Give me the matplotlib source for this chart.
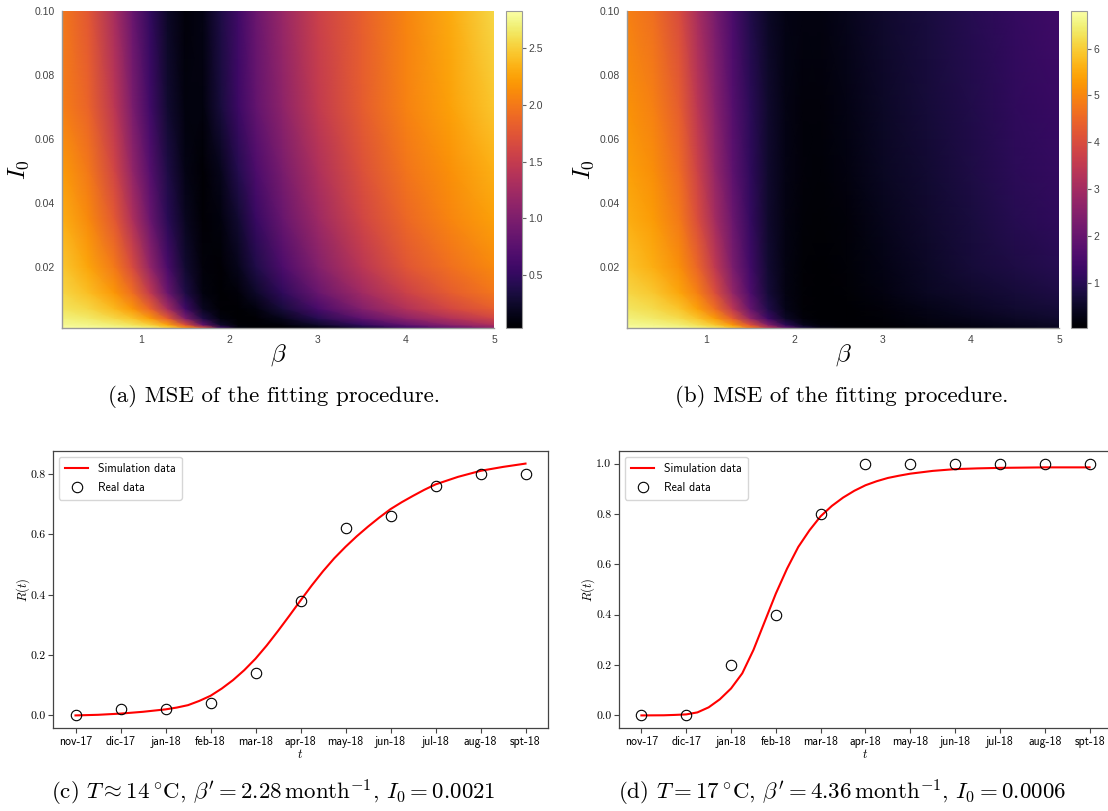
import numpy as np
import matplotlib
matplotlib.use("Agg")
import matplotlib.pyplot as plt

plt.rcParams['mathtext.fontset'] = 'cm'

# ---------------- data ----------------
betas = [0.1, 0.4, 0.7, 0.9, 1.1, 1.3, 1.5, 1.7, 1.9, 2.1, 2.3, 2.6, 3.0, 3.5, 4.0, 4.5, 5.0]
i0s = [0.001, 0.002, 0.004, 0.007, 0.012, 0.02, 0.035, 0.05, 0.07, 0.1]

# MSE surface (a): rows follow i0s, columns follow betas
mse_a = [
    [2.83, 2.80, 2.77, 2.75, 2.69, 2.55, 2.21, 1.76, 0.58, 0.10, 0.03, 0.03, 0.10, 0.30, 0.55, 0.80, 1.06],
    [2.77, 2.75, 2.69, 2.63, 2.52, 2.27, 1.71, 0.81, 0.24, 0.06, 0.03, 0.08, 0.24, 0.50, 0.80, 1.08, 1.34],
    [2.72, 2.66, 2.55, 2.44, 2.21, 1.79, 1.00, 0.36, 0.10, 0.03, 0.05, 0.17, 0.42, 0.78, 1.10, 1.36, 1.60],
    [2.63, 2.55, 2.38, 2.18, 1.85, 1.28, 0.58, 0.19, 0.05, 0.03, 0.10, 0.32, 0.63, 1.03, 1.36, 1.62, 1.82],
    [2.55, 2.41, 2.18, 1.93, 1.48, 0.86, 0.36, 0.10, 0.03, 0.08, 0.23, 0.47, 0.85, 1.24, 1.56, 1.80, 1.98],
    [2.46, 2.27, 1.99, 1.65, 1.14, 0.64, 0.27, 0.08, 0.05, 0.17, 0.38, 0.66, 1.03, 1.42, 1.74, 1.94, 2.10],
    [2.32, 2.10, 1.76, 1.34, 0.86, 0.44, 0.19, 0.05, 0.10, 0.28, 0.53, 0.84, 1.22, 1.60, 1.88, 2.08, 2.24],
    [2.21, 1.99, 1.59, 1.14, 0.72, 0.36, 0.13, 0.05, 0.17, 0.41, 0.66, 0.97, 1.34, 1.70, 1.97, 2.15, 2.33],
    [2.04, 1.85, 1.43, 0.98, 0.58, 0.27, 0.10, 0.10, 0.32, 0.56, 0.81, 1.11, 1.48, 1.80, 2.06, 2.25, 2.45],
    [1.99, 1.76, 1.28, 0.86, 0.50, 0.22, 0.08, 0.13, 0.36, 0.58, 0.86, 1.17, 1.54, 1.82, 2.07, 2.30, 2.55],
]

# MSE surface (b)
mse_b = [
    [6.80, 6.73, 6.66, 6.53, 6.33, 5.92, 4.90, 3.55, 2.06, 0.84, 0.30, 0.06, 0.06, 0.13, 0.23, 0.33, 0.44],
    [6.66, 6.60, 6.46, 6.26, 5.92, 5.24, 4.09, 2.47, 1.05, 0.37, 0.13, 0.04, 0.08, 0.20, 0.30, 0.40, 0.50],
    [6.53, 6.39, 6.19, 5.85, 5.31, 4.30, 2.74, 1.32, 0.50, 0.17, 0.06, 0.05, 0.13, 0.27, 0.37, 0.50, 0.61],
    [6.33, 6.19, 5.85, 5.38, 4.63, 3.42, 1.99, 0.91, 0.33, 0.11, 0.05, 0.06, 0.17, 0.33, 0.47, 0.61, 0.71],
    [6.12, 5.92, 5.45, 4.90, 4.02, 2.74, 1.59, 0.71, 0.27, 0.10, 0.05, 0.10, 0.23, 0.44, 0.57, 0.71, 0.84],
    [5.85, 5.58, 5.11, 4.50, 3.48, 2.33, 1.38, 0.64, 0.27, 0.10, 0.06, 0.13, 0.30, 0.50, 0.71, 0.84, 0.98],
    [5.58, 5.31, 4.77, 4.02, 3.01, 2.06, 1.18, 0.57, 0.27, 0.13, 0.10, 0.17, 0.37, 0.57, 0.77, 0.98, 1.11],
    [5.38, 5.11, 4.57, 3.75, 2.74, 1.86, 1.11, 0.57, 0.30, 0.17, 0.13, 0.23, 0.44, 0.64, 0.84, 1.05, 1.18],
    [5.18, 4.90, 4.30, 3.42, 2.53, 1.72, 1.05, 0.57, 0.30, 0.17, 0.17, 0.30, 0.50, 0.71, 0.91, 1.11, 1.25],
    [4.90, 4.63, 3.96, 3.08, 2.26, 1.52, 0.91, 0.50, 0.30, 0.23, 0.23, 0.37, 0.57, 0.77, 0.98, 1.18, 1.38],
]

months = ['nov-17', 'dic-17', 'jan-18', 'feb-18', 'mar-18', 'apr-18',
          'may-18', 'jun-18', 'jul-18', 'aug-18', 'spt-18']
real_c = [0.0, 0.02, 0.02, 0.04, 0.14, 0.38, 0.62, 0.66, 0.76, 0.80, 0.80]
real_d = [0.0, 0.0, 0.2, 0.4, 0.8, 1.0, 1.0, 1.0, 1.0, 1.0, 1.0]

sim_t_c = [0, 0.5, 1, 1.5, 2, 2.25, 2.5, 2.75, 3, 3.25, 3.5, 3.75, 4, 4.25, 4.5, 4.75, 5,
           5.25, 5.5, 5.75, 6, 6.25, 6.5, 6.75, 7, 7.25, 7.5, 7.75, 8, 8.5, 9, 9.5, 10]
sim_c = [0.0, 0.002, 0.006, 0.012, 0.02, 0.026, 0.034, 0.048, 0.065, 0.089, 0.117, 0.15,
         0.188, 0.232, 0.28, 0.33, 0.381, 0.431, 0.478, 0.521, 0.559, 0.594, 0.626, 0.656,
         0.684, 0.707, 0.728, 0.748, 0.766, 0.791, 0.811, 0.824, 0.835]

sim_t_d = [0, 0.5, 0.75, 1, 1.25, 1.5, 1.75, 2, 2.25, 2.5, 2.75, 3, 3.25, 3.5, 3.75, 4, 4.25,
           4.5, 4.75, 5, 5.25, 5.5, 5.75, 6, 6.5, 7, 7.5, 8, 9, 10]
sim_d = [0.0, 0.0005, 0.002, 0.004, 0.012, 0.032, 0.064, 0.107, 0.167, 0.26, 0.372, 0.484,
         0.583, 0.669, 0.735, 0.791, 0.832, 0.865, 0.892, 0.914, 0.930, 0.943, 0.952, 0.960,
         0.971, 0.978, 0.981, 0.983, 0.985, 0.985]

captions = [
    "(a) MSE of the fitting procedure.",
    "(b) MSE of the fitting procedure.",
    r"(c) $T \approx 14\,^{\circ}\mathrm{C}$, $\beta' = 2.28\,\mathrm{month}^{-1}$, $I_0 = 0.0021$",
    r"(d) $T = 17\,^{\circ}\mathrm{C}$, $\beta' = 4.36\,\mathrm{month}^{-1}$, $I_0 = 0.0006$",
]

# ---------------- figure ----------------
W, H = 1108, 811
fig = plt.figure(figsize=(W / 100, H / 100), dpi=100)


def rect(l, r, t, b):
    return [l / W, (H - b) / H, (r - l) / W, (b - t) / H]


def heatmap(ax_r, cax_r, data, cticks):
    ax = fig.add_axes(rect(*ax_r))
    cax = fig.add_axes(rect(*cax_r))
    B, I = np.meshgrid(betas, i0s)
    Z = np.array(data)
    m = ax.pcolormesh(B, I, Z, shading='gouraud', cmap='inferno',
                      vmin=Z.min(), vmax=Z.max(), rasterized=True)
    ax.set_xlim(betas[0], betas[-1])
    ax.set_ylim(i0s[0], i0s[-1])
    ax.set_xticks([1, 2, 3, 4, 5])
    ax.set_xticklabels(['1', '2', '3', '4', '5'])
    ax.set_yticks([0.02, 0.04, 0.06, 0.08, 0.10])
    ax.set_yticklabels(['0.02', '0.04', '0.06', '0.08', '0.10'])
    for s in ['top', 'right']:
        ax.spines[s].set_visible(False)
    for s in ['left', 'bottom']:
        ax.spines[s].set_color('#9a9a9a')
        ax.spines[s].set_linewidth(1.0)
    ax.tick_params(length=0, pad=5, labelsize=7.5, labelcolor='#444444')
    for lab in ax.get_xticklabels() + ax.get_yticklabels():
        lab.set_fontfamily('Liberation Sans')
    ax.set_xlabel(r'$\beta$', fontsize=18, labelpad=-2)
    ax.set_ylabel(r'$I_0$', fontsize=18, labelpad=3)
    cb = fig.colorbar(m, cax=cax)
    cb.set_ticks(cticks)
    cb.outline.set_edgecolor('#9a9a9a')
    cb.outline.set_linewidth(0.8)
    cax.tick_params(length=3, width=0.8, color='#666666', labelsize=7.5,
                    labelcolor='#444444', pad=1.5)
    for lab in cax.get_yticklabels():
        lab.set_fontfamily('Liberation Sans')
    return ax


heatmap((62, 494, 11, 328), (506, 522, 11, 328), mse_a, [0.5, 1.0, 1.5, 2.0, 2.5])
heatmap((627, 1059, 11, 328), (1071, 1087, 11, 328), mse_b, [1, 2, 3, 4, 5, 6])


def curve_panel(ax_r, sim_t, sim, real, yticks):
    ax = fig.add_axes(rect(*ax_r))
    x = np.arange(len(months))
    ax.plot(sim_t, sim, color='red', lw=1.5, label='Simulation data', zorder=2)
    ax.plot(x, real, 'o', mfc='none', mec='black', ms=7.5, mew=0.8,
            label='Real data', zorder=3)
    ax.set_xticks(x)
    ax.set_xticklabels(months, fontfamily='cmss10', fontsize=8.5)
    ax.set_yticks(yticks)
    ax.set_yticklabels([f'{v:.1f}' for v in yticks], fontfamily='cmr10', fontsize=8.5)
    for s in ax.spines.values():
        s.set_color('#444444')
        s.set_linewidth(0.9)
    ax.tick_params(length=3.5, width=0.8, color='#444444', pad=2)
    ax.set_xlabel(r'$t$', fontsize=9, labelpad=0)
    ax.set_ylabel(r'$R(t)$', fontsize=9, labelpad=-1)
    ax.legend(loc='upper left', prop={'family': 'cmss10', 'size': 8.5},
              handlelength=2.0, borderpad=0.5, labelspacing=0.6)
    return ax


curve_panel((53, 548, 451, 728), sim_t_c, sim_c, real_c, [0.0, 0.2, 0.4, 0.6, 0.8])
curve_panel((619, 1112, 451, 728), sim_t_d, sim_d, real_d, [0.0, 0.2, 0.4, 0.6, 0.8, 1.0])

cap_pos = [(274, 396), (842, 396), (273, 793), (842, 793)]
for (cx, cy), txt in zip(cap_pos, captions):
    fig.text(cx / W, 1 - cy / H, txt, ha='center', va='center',
             fontfamily='cmr10', fontsize=16.5)

fig.savefig('out.png', dpi=100)
